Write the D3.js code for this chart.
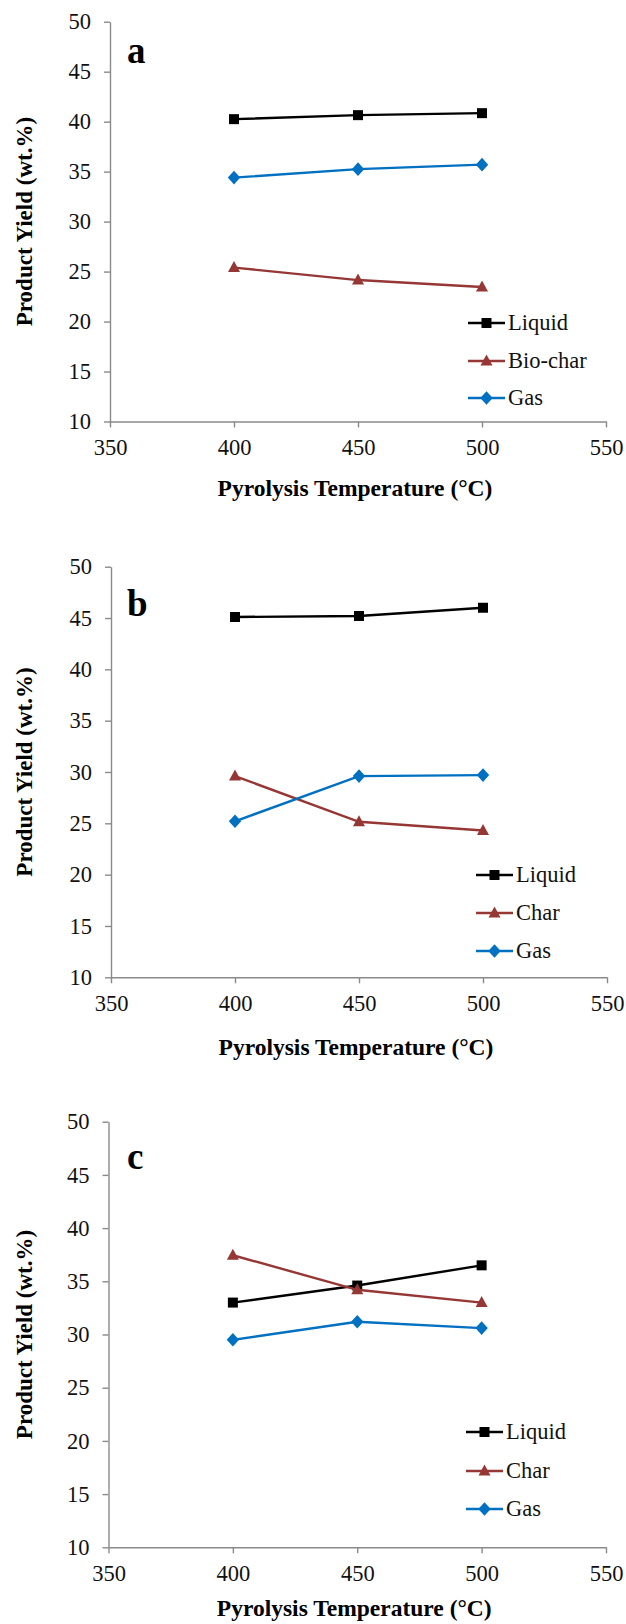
<!DOCTYPE html>
<html>
<head>
<meta charset="utf-8">
<script src="https://cdn.jsdelivr.net/npm/d3@7"></script>
<style>
  body { margin: 0; background: #fff; }
</style>
</head>
<body>
<svg id="chart" width="626" height="1624"></svg>
<script>
// x values and ticks
let temps = [400, 450, 500];
let xTicks = [350, 400, 450, 500, 550];
let yTicks = [10, 15, 20, 25, 30, 35, 40, 45, 50];

// panel a
let liquidA = [40.25, 40.65, 40.85];
let charA = [25.4, 24.15, 23.45];
let gasA = [34.4, 35.25, 35.7];
let namesA = ["Liquid", "Bio-char", "Gas"];

// panel b
let liquidB = [45.1, 45.2, 46.0];
let charB = [29.6, 25.15, 24.3];
let gasB = [25.2, 29.6, 29.7];
let namesB = ["Liquid", "Char", "Gas"];

// panel c
let liquidC = [33.0, 34.6, 36.5];
let charC = [37.45, 34.2, 33.0];
let gasC = [29.5, 31.2, 30.6];
let namesC = ["Liquid", "Char", "Gas"];

let letters = ["a", "b", "c"];
let xTitle = "Pyrolysis Temperature (°C)";
let yTitle = "Product Yield (wt.%)";

const FONT = '"Liberation Serif", "Times New Roman", Times, serif';
let colors = ["#000000", "#953735", "#0070C0"];

// excel-like markers (size arg ignored, shapes are fixed)
let square = { draw: function(c) { c.rect(-5, -5, 10, 10); } };
let triangle = { draw: function(c) { c.moveTo(0, -6.5); c.lineTo(6, 4.5); c.lineTo(-6, 4.5); c.closePath(); } };
let diamond = { draw: function(c) { c.moveTo(0, -6.8); c.lineTo(6.2, 0); c.lineTo(0, 6.8); c.lineTo(-6.2, 0); c.closePath(); } };
let shapes = [square, triangle, diamond];

// layout of each panel on the page
let panels = [
    {left: 110, right: 606, top: 21.7, bottom: 421.5, titleY: 488, letterY: 63, legX: 468, legY: [323, 361, 398],
     series: [liquidA, charA, gasA], names: namesA},
    {left: 111, right: 607, top: 566.7, bottom: 977.3, titleY: 1047, letterY: 616, legX: 476, legY: [875, 913, 951],
     series: [liquidB, charB, gasB], names: namesB},
    {left: 108.5, right: 606, top: 1121.7, bottom: 1547.3, titleY: 1608, letterY: 1169, legX: 466, legY: [1432, 1471, 1509],
     series: [liquidC, charC, gasC], names: namesC}
];

let svg = d3.select("#chart").attr("font-family", FONT);

panels.forEach(function(p, i) {
    let x = d3.scaleLinear().domain([350, 550]).range([p.left, p.right]);
    let y = d3.scaleLinear().domain([10, 50]).range([p.bottom, p.top]);
    let g = svg.append("g");

    let yAxis = g.append("g")
        .attr("transform", "translate(" + p.left + ",0)")
        .call(d3.axisLeft(y).tickValues(yTicks).tickSize(6).tickSizeOuter(0).tickPadding(13));
    let xAxis = g.append("g")
        .attr("transform", "translate(0," + p.bottom + ")")
        .call(d3.axisBottom(x).tickValues(xTicks).tickSize(6).tickSizeOuter(0).tickPadding(12));

    [yAxis, xAxis].forEach(function(ax) {
        ax.attr("font-family", FONT).attr("font-size", 22.5);
        ax.select(".domain").attr("stroke", "#8a8a8a").attr("stroke-width", 1.4);
        ax.selectAll(".tick line").attr("stroke", "#8a8a8a").attr("stroke-width", 1.4);
        ax.selectAll(".tick text").attr("fill", "#111");
    });

    // axis titles
    g.append("text")
        .attr("x", (p.left + p.right) / 2 - 3)
        .attr("y", p.titleY)
        .attr("dy", "0.35em")
        .attr("text-anchor", "middle")
        .attr("font-weight", "bold")
        .attr("font-size", 23.5)
        .text(xTitle);

    g.append("text")
        .attr("transform", "translate(24," + (p.top + p.bottom) / 2 + ") rotate(-90)")
        .attr("dy", "0.35em")
        .attr("text-anchor", "middle")
        .attr("font-weight", "bold")
        .attr("font-size", 23)
        .text(yTitle);

    // panel letter
    g.append("text")
        .attr("x", 127)
        .attr("y", p.letterY)
        .attr("font-weight", "bold")
        .attr("font-size", 37)
        .text(letters[i]);

    // lines and markers
    let line = d3.line()
        .x(function(d, j) { return x(temps[j]); })
        .y(function(d) { return y(d); });

    p.series.forEach(function(vals, k) {
        g.append("path")
            .datum(vals)
            .attr("fill", "none")
            .attr("stroke", colors[k])
            .attr("stroke-width", 2.4)
            .attr("d", line);

        g.selectAll(".m" + k)
            .data(vals)
            .enter().append("path")
            .attr("class", "m" + k)
            .attr("transform", function(d, j) { return "translate(" + x(temps[j]) + "," + y(d) + ")"; })
            .attr("d", d3.symbol().type(shapes[k]))
            .attr("fill", colors[k]);
    });

    // legend
    p.names.forEach(function(name, k) {
        let ly = p.legY[k];
        g.append("line")
            .attr("x1", p.legX).attr("x2", p.legX + 37)
            .attr("y1", ly).attr("y2", ly)
            .attr("stroke", colors[k])
            .attr("stroke-width", 2.4);
        g.append("path")
            .attr("transform", "translate(" + (p.legX + 18.5) + "," + ly + ")")
            .attr("d", d3.symbol().type(shapes[k]))
            .attr("fill", colors[k]);
        g.append("text")
            .attr("x", p.legX + 40)
            .attr("y", ly)
            .attr("dy", "0.33em")
            .attr("font-size", 22.5)
            .attr("fill", "#111")
            .text(name);
    });
});
</script>
</body>
</html>
